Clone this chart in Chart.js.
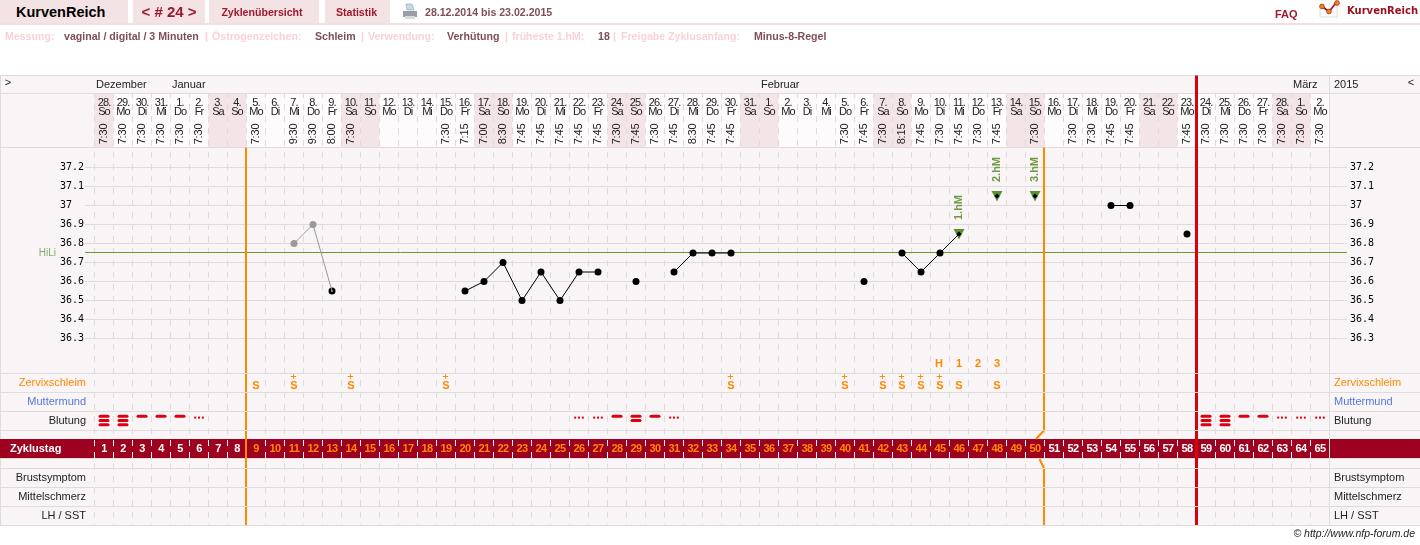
<!doctype html>
<html>

<head>
  <meta charset="utf-8">
  <title>KurvenReich</title>
  <script src="https://cdn.jsdelivr.net/npm/chart.js@4/dist/chart.umd.min.js"></script>
  <style>
    html, body { margin: 0; padding: 0; background: #fff; width: 1420px; height: 545px; overflow: hidden; }
    body { font-family: "Liberation Sans", Arial, sans-serif; position: relative; }
    canvas { position: absolute; left: 0; top: 0; }
    .tab { position: absolute; top: 0; height: 23px; line-height: 24px; background: #f3e3e5; color: #a0182e; font-weight: bold; font-size: 10.6px; text-align: center; }
    .t { position: absolute; white-space: nowrap; font-weight: bold; font-size: 10.6px; line-height: 12px; top: 30px; }
    .pale { color: #f9d2d5; }
    .val { color: #7f4f55; }
  </style>
</head>

<body>
  <canvas id="chart" width="1420" height="545"></canvas>

  <div style="position:absolute;left:0;top:23px;width:1420px;height:2px;background:#f3dfe2"></div>
  <div class="tab" style="left:0;width:128px;color:#000;font-size:14.5px;text-align:left"><span style="margin-left:16px">KurvenReich</span></div>
  <div class="tab" style="left:133px;width:72px;font-size:15px">&lt; # 24 &gt;</div>
  <div class="tab" style="left:209px;width:110px;text-indent:-4px">Zyklenübersicht</div>
  <div class="tab" style="left:325px;width:65px;text-indent:-2px">Statistik</div>
  <svg style="position:absolute;left:402px;top:3px" width="16" height="18" viewBox="0 0 16 18">
    <path d="M4 1h6l2 6H5z" fill="#c5d8ec" stroke="#8aa" stroke-width=".6" />
    <path d="M1 8h14v6H1z" fill="#9a9fa5" />
    <path d="M3 13h10v3H3z" fill="#d8dadc" />
  </svg>
  <div class="t val" style="left:425px;top:6px">28.12.2014 bis 23.02.2015</div>
  <div class="t" style="left:1275px;top:8px;font-size:11px;color:#a0182e">FAQ</div>
  <svg style="position:absolute;left:1319px;top:0" width="22" height="19" viewBox="0 0 22 19">
    <path d="M1 9v8h17V5" fill="none" stroke="#ecd7da" />
    <path d="M3 6.5l7 5 7-8.500" fill="none" stroke="#a0182e" stroke-width="1.8" />
    <circle cx="3" cy="6.500" r="2.400" fill="#f08a00" stroke="#a0182e" stroke-width=".7" />
    <circle cx="10" cy="11.500" r="2.400" fill="#f08a00" stroke="#a0182e" stroke-width=".7" />
    <circle cx="18" cy="3" r="2.400" fill="#f08a00" stroke="#a0182e" stroke-width=".7" />
  </svg>
  <div class="t" style="left:1347px;top:5px;font-family:'DejaVu Sans';font-size:10px;color:#9b0f20">KurvenReich</div>

  <div class="t pale" style="left:5px">Messung:</div>
  <div class="t val" style="left:64px">vaginal / digital / 3 Minuten</div>
  <div class="t pale" style="left:205px">|</div>
  <div class="t pale" style="left:212px">Östrogenzeichen:</div>
  <div class="t val" style="left:315px">Schleim</div>
  <div class="t pale" style="left:361px">|</div>
  <div class="t pale" style="left:368px">Verwendung:</div>
  <div class="t val" style="left:447px">Verhütung</div>
  <div class="t pale" style="left:505px">|</div>
  <div class="t pale" style="left:512px">früheste 1.hM:</div>
  <div class="t val" style="left:598px">18</div>
  <div class="t pale" style="left:613px">|</div>
  <div class="t pale" style="left:621px">Freigabe Zyklusanfang:</div>
  <div class="t val" style="left:754px">Minus-8-Regel</div>

  <div class="t" style="right:5px;top:527px;font-weight:normal;font-style:italic;font-size:10.5px;color:#222">© http://www.nfp-forum.de</div>

  <script>
    const cycleDays = [1, 2, 3, 4, 5, 6, 7, 8, 9, 10, 11, 12, 13, 14, 15, 16, 17, 18, 19, 20, 21, 22, 23, 24, 25, 26, 27, 28, 29, 30, 31, 32, 33,
      34, 35, 36, 37, 38, 39, 40, 41, 42, 43, 44, 45, 46, 47, 48, 49, 50, 51, 52, 53, 54, 55, 56, 57, 58, 59, 60, 61, 62, 63, 64, 65];
    const dayOfMonth = [28, 29, 30, 31, 1, 2, 3, 4, 5, 6, 7, 8, 9, 10, 11, 12, 13, 14, 15, 16, 17, 18, 19, 20, 21, 22, 23, 24, 25, 26, 27, 28, 29,
      30, 31, 1, 2, 3, 4, 5, 6, 7, 8, 9, 10, 11, 12, 13, 14, 15, 16, 17, 18, 19, 20, 21, 22, 23, 24, 25, 26, 27, 28, 1, 2];
    const weekDays = ['So', 'Mo', 'Di', 'Mi', 'Do', 'Fr', 'Sa', 'So', 'Mo', 'Di', 'Mi', 'Do', 'Fr', 'Sa', 'So', 'Mo', 'Di', 'Mi', 'Do', 'Fr', 'Sa', 'So',
      'Mo', 'Di', 'Mi', 'Do', 'Fr', 'Sa', 'So', 'Mo', 'Di', 'Mi', 'Do', 'Fr', 'Sa', 'So', 'Mo', 'Di', 'Mi', 'Do', 'Fr', 'Sa', 'So', 'Mo',
      'Di', 'Mi', 'Do', 'Fr', 'Sa', 'So', 'Mo', 'Di', 'Mi', 'Do', 'Fr', 'Sa', 'So', 'Mo', 'Di', 'Mi', 'Do', 'Fr', 'Sa', 'So', 'Mo'];
    const measureTimes = ['7:30', '7:30', '7:30', '7:30', '7:30', '7:30', '', '', '7:30', '', '9:30', '9:30', '8:00', '7:30', '', '', '', '', '7:30', '7:15',
      '7:00', '8:30', '7:45', '7:45', '7:45', '7:45', '7:45', '7:30', '7:45', '7:30', '7:45', '8:30', '7:45', '7:45', '', '', '', '', '', '7:30',
      '7:45', '7:30', '8:15', '7:45', '7:30', '7:45', '7:30', '7:45', '', '7:30', '', '7:30', '7:30', '7:45', '7:45', '', '', '7:45', '7:30', '7:30',
      '7:30', '7:30', '7:30', '7:30', '7:30'];
    const monthLabels = ['Dezember', 'Januar', 'Februar', 'März'];
    const monthStartDays = [1, 5, 36, 64];

    // temperature per cycle day, null = not measured
    const temps = [null, null, null, null, null, null, null, null, null, null, null, null, 36.55, null, null, null, null, null, null, 36.55,
      36.6, 36.7, 36.5, 36.65, 36.5, 36.65, 36.65, null, 36.6, null, 36.65, 36.75, 36.75, 36.75, null, null, null, null, null, null,
      36.6, null, 36.75, 36.65, 36.75, 36.85, null, 37.05, null, 37.05, null, null, null, 37, 37, null, null, 36.85, null, null,
      null, null, null, null, null];
    const excludedDays = [11, 12, 13];
    const excludedTemps = [36.8, 36.9, 36.55];
    const hmDays = [46, 48, 50];
    const hmTemps = [36.85, 37.05, 37.05];
    const hmLabels = ['1.hM', '2.hM', '3.hM'];
    const hiLiTemp = 36.75;
    const tempTicks = [37.2, 37.1, 37, 36.9, 36.8, 36.7, 36.6, 36.5, 36.4, 36.3];

    const peakDays = [45, 46, 47, 48];
    const peakLabels = ['H', '1', '2', '3'];
    const mucusDays = [9, 11, 14, 19, 34, 40, 42, 43, 44, 45, 46, 48];
    const mucusPlus = [false, true, true, true, true, true, true, true, true, true, false, false];
    const bleedDays = [1, 2, 3, 4, 5, 6, 26, 27, 28, 29, 30, 31, 59, 60, 61, 62, 63, 64, 65];
    const bleedLevels = [4, 4, 2, 2, 2, 1, 1, 1, 2, 3, 2, 1, 4, 4, 2, 2, 1, 1, 1];
    const rowLabels = ['Zervixschleim', 'Muttermund', 'Blutung', 'Brustsymptom', 'Mittelschmerz', 'LH / SST'];
    const rowCenters = [0.5, 1.5, 2.5, 5.5, 6.5, 7.5];
    const rowEdges = [0, 1, 2, 3, 5, 6, 7, 8];
    const fertileStart = 8.5, fertileEnd = 50.5, cycleEnd = 58.5;

    const LINE = '#dedbdb', ORANGE = '#ff8800', GREEN = '#6a9a2e', BAND = '#9e0020';
    const halfPx = 0.5 / 19; // orange lines sit half a pixel left of the column edge

    // 1 row = 19 px, 0.1 degree = 19 px
    const tempMax = 37.2 + 74 / 190, tempMin = 37.2 - 358 / 190;
    const rowMin = -280 / 19, rowMax = 8;
    const rowTop = -226 / 19, redTop = -298 / 19;

    function icon(draw) {
      const c = document.createElement('canvas');
      c.width = 20; c.height = 20;
      draw(c.getContext('2d'));
      return c;
    }
    function pills(ys) {
      return icon(function (g) {
        g.fillStyle = '#dd0011';
        ys.forEach(function (y) {
          g.beginPath();
          g.roundRect(4.5, y, 11, 3, 1.5);
          g.fill();
        });
      });
    }
    const bleedIcons = {
      1: icon(function (g) {
        g.fillStyle = '#dd0011';
        [5.2, 9, 12.8].forEach(function (x) { g.fillRect(x, 5.6, 2, 2); });
      }),
      2: pills([3.8]),
      3: pills([3.8, 8]),
      4: pills([3.8, 8, 12.2])
    };
    const hmIcon = icon(function (g) {
      g.fillStyle = '#5d9130';
      g.beginPath();
      g.moveTo(4.5, 5); g.lineTo(15.5, 5); g.lineTo(10, 15.5);
      g.fill();
    });

    function text(ctx, str, x, y, font, color, align, spacing) {
      ctx.font = font;
      ctx.fillStyle = color;
      ctx.textAlign = align || 'center';
      ctx.textBaseline = 'middle';
      ctx.letterSpacing = spacing || '0px';
      ctx.fillText(str, x, y);
      ctx.letterSpacing = '0px';
    }
    function hLine(ctx, y, x0, x1) {
      ctx.beginPath();
      ctx.moveTo(x0, y); ctx.lineTo(x1, y);
      ctx.stroke();
    }

    const tablePlugin = {
      id: 'table',
      beforeDraw(chart) {
        const ctx = chart.ctx, xs = chart.scales.x, rows = chart.scales.rows;
        ctx.save();
        ctx.fillStyle = '#f9f4f5';
        ctx.fillRect(0, 75, 1420, 451);
        cycleDays.forEach(function (d, i) {
          const isWeekend = weekDays[i] === 'Sa' || weekDays[i] === 'So';
          ctx.fillStyle = isWeekend ? '#f3e4e7' : '#fdfbfb';
          ctx.fillRect(xs.getPixelForValue(d - 0.5), 94, 19, 53);
        });
        ctx.strokeStyle = LINE;
        ctx.lineWidth = 1;
        [75.5, 93.5, 147.5].forEach(function (y) { hLine(ctx, y, 0, 1420); });
        rowEdges.forEach(function (r) {
          const y = Math.floor(rows.getPixelForValue(r)) + 0.5;
          hLine(ctx, y, 0, 94);
          hLine(ctx, y, 1330, 1420);
        });
        ctx.beginPath();
        ctx.moveTo(0.5, 75); ctx.lineTo(0.5, 526);
        ctx.moveTo(1329.5, 75); ctx.lineTo(1329.5, 526);
        ctx.stroke();
        ctx.restore();
      },
      beforeDatasetsDraw(chart) {
        const ctx = chart.ctx, xs = chart.scales.x, rows = chart.scales.rows, ys = chart.scales.y;
        const base = '11px "Liberation Sans", Arial, sans-serif';
        const bold = 'bold 11px "Liberation Sans", Arial, sans-serif';
        ctx.save();

        // header
        text(ctx, '>', 8, 83, base, '#222');
        text(ctx, '2015', 1334, 85, base, '#222', 'left');
        text(ctx, '<', 1411, 83, base, '#222');
        monthLabels.forEach(function (m, i) {
          text(ctx, m, xs.getPixelForValue(monthStartDays[i] - 0.5) + 1.5, 85, base, '#222', 'left');
        });
        cycleDays.forEach(function (d, i) {
          const x = xs.getPixelForValue(d);
          text(ctx, dayOfMonth[i] + '.', x, 102.5, base, '#222', 'center', '-0.9px');
          text(ctx, weekDays[i], x, 112, base, '#222', 'center', '-1px');
          if (measureTimes[i]) {
            ctx.save();
            ctx.translate(x, 134);
            ctx.rotate(-Math.PI / 2);
            text(ctx, measureTimes[i], 0, 0, base, '#222', 'center', '-0.2px');
            ctx.restore();
          }
        });

        // row labels, both sides
        rowLabels.forEach(function (label, i) {
          const y = rows.getPixelForValue(rowCenters[i]);
          const color = i === 0 ? ORANGE : i === 1 ? '#5577dd' : '#222';
          text(ctx, label, 86, y, base, color, 'right');
          text(ctx, label, 1334, y, base, color, 'left');
        });

        // cycle day band
        const top = rows.getPixelForValue(65.5 / 19), h = 19;
        ctx.fillStyle = BAND;
        ctx.fillRect(0, top, 1420, h);
        ctx.strokeStyle = '#ffffff';
        ctx.lineWidth = 1;
        ctx.setLineDash([6, 6]);
        ctx.lineDashOffset = 1.5;
        ctx.save();
        ctx.beginPath();
        ctx.rect(0, top, 1420, h);
        ctx.clip();
        cycleDays.forEach(function (d) {
          const x = xs.getPixelForValue(d - 0.5);
          ctx.beginPath();
          ctx.moveTo(x, 93.5); ctx.lineTo(x, 525.5);
          ctx.stroke();
        });
        ctx.restore();
        ctx.setLineDash([]);
        ctx.strokeStyle = LINE;
        hLine(ctx, top + h + 0.5, 0, 1420);
        ctx.beginPath();
        ctx.moveTo(1329.5, top); ctx.lineTo(1329.5, top + h);
        ctx.stroke();
        text(ctx, 'Zyklustag', 10, top + h / 2, bold, '#fff', 'left');
        cycleDays.forEach(function (d) {
          const inside = d > fertileStart && d < fertileEnd;
          text(ctx, String(d), xs.getPixelForValue(d), top + h / 2, bold, inside ? ORANGE : '#fff', 'center', '-0.6px');
        });

        // mucus and peak day marks
        mucusDays.forEach(function (d, i) {
          const x = xs.getPixelForValue(d), y = rows.getPixelForValue(0.5);
          text(ctx, 'S', x, y + 2.5, bold, ORANGE);
          if (mucusPlus[i]) text(ctx, '+', x - 0.5, y - 6, '11px "Liberation Sans", Arial, sans-serif', ORANGE);
        });
        peakDays.forEach(function (d, i) {
          text(ctx, peakLabels[i], xs.getPixelForValue(d) - (i === 0 ? 1 : 0), 364, bold, ORANGE);
        });

        text(ctx, 'HiLi', 56, ys.getPixelForValue(hiLiTemp), '10px "Liberation Sans", Arial, sans-serif', '#8aa86a', 'right');
        ctx.restore();
      },
      afterDatasetsDraw(chart) {
        const ctx = chart.ctx, xs = chart.scales.x, ys = chart.scales.y;
        hmDays.forEach(function (d, i) {
          ctx.save();
          ctx.translate(xs.getPixelForValue(d), ys.getPixelForValue(hmTemps[i]) - 26.5);
          ctx.rotate(-Math.PI / 2);
          text(ctx, hmLabels[i], 0, 0, 'bold 11px "Liberation Sans", Arial, sans-serif', '#6f9a45');
          ctx.restore();
        });
      }
    };

    function yAxis(position) {
      return {
        position: position,
        min: tempMin,
        max: tempMax,
        afterBuildTicks: function (s) { s.ticks = tempTicks.map(function (v) { return { value: v }; }); },
        afterFit: function (s) { s.width = position === 'left' ? 34.5 : 90.5; },
        border: { display: false },
        grid: { color: LINE, drawOnChartArea: position === 'left', tickLength: position === 'left' ? 9.5 : 17.5 },
        ticks: {
          autoSkip: false,
          padding: 3,
          crossAlign: position === 'left' ? 'far' : 'near',
          color: '#000',
          font: { family: '"DejaVu Sans Mono"', size: 10 },
          callback: function (v) { return String(v); }
        }
      };
    }

    new Chart(document.getElementById('chart').getContext('2d'), {
      type: 'line',
      plugins: [tablePlugin],
      data: {
        datasets: [
          {
            label: 'Temperatur',
            data: cycleDays.map(function (d, i) { return { x: d, y: temps[i] }; }),
            borderColor: '#000',
            backgroundColor: '#000',
            borderWidth: 1,
            pointBorderWidth: 0,
            pointStyle: function (c) { return hmDays.indexOf(c.dataIndex + 1) >= 0 ? 'rectRot' : 'circle'; },
            pointRadius: function (c) { return hmDays.indexOf(c.dataIndex + 1) >= 0 ? 2.6 : 3.5; },
            order: 3
          },
          {
            label: 'ausgeklammert',
            data: excludedDays.map(function (d, i) { return { x: d, y: excludedTemps[i] }; }),
            borderColor: '#999',
            backgroundColor: '#999',
            borderWidth: 1,
            pointBorderWidth: 0,
            pointRadius: [3.5, 3.5, 1],
            order: 2
          },
          {
            label: 'Höhenmarke',
            data: hmDays.map(function (d, i) { return { x: d, y: hmTemps[i] }; }),
            showLine: false,
            pointStyle: hmIcon,
            order: 5
          },
          {
            label: 'HiLi',
            data: [{ x: 0, y: hiLiTemp + 0.0026 }, { x: 66.42, y: hiLiTemp + 0.0026 }],
            borderColor: GREEN,
            borderWidth: 1,
            pointRadius: 0,
            clip: false,
            order: 8
          },
          {
            label: 'Beginn fruchtbar',
            yAxisID: 'rows',
            data: [{ x: fertileStart - halfPx, y: rowTop }, { x: fertileStart - halfPx, y: rowMax }],
            borderColor: ORANGE,
            borderWidth: 2,
            pointRadius: 0,
            order: 6
          },
          {
            label: 'Ende fruchtbar',
            yAxisID: 'rows',
            data: [{ x: fertileEnd - halfPx, y: rowTop }, { x: fertileEnd - halfPx, y: 3 }, { x: fertileEnd - 0.45, y: 3.45 }, { x: fertileEnd, y: null },
              { x: fertileEnd - 0.26, y: 4.5 }, { x: fertileEnd - halfPx, y: 5 }, { x: fertileEnd - halfPx, y: rowMax }],
            borderColor: ORANGE,
            borderWidth: 2,
            pointRadius: 0,
            order: 6
          },
          {
            label: 'Zyklusende',
            yAxisID: 'rows',
            data: [{ x: cycleEnd, y: redTop }, { x: cycleEnd, y: rowMax }],
            borderColor: '#d90010',
            borderWidth: 3,
            pointRadius: 0,
            clip: false,
            order: 6
          },
          {
            label: 'Blutung',
            yAxisID: 'rows',
            data: bleedDays.map(function (d) { return { x: d, y: 2.5 }; }),
            showLine: false,
            pointStyle: function (c) { return bleedIcons[bleedLevels[c.dataIndex]]; },
            order: 4
          }
        ]
      },
      options: {
        responsive: false,
        animation: false,
        events: [],
        layout: { padding: { left: 60, right: 0, top: 93.5, bottom: 19.5 } },
        plugins: { legend: { display: false }, tooltip: { enabled: false } },
        scales: {
          x: {
            type: 'linear',
            min: 0.5,
            max: 65.5,
            afterBuildTicks: function (s) {
              s.ticks = cycleDays.map(function (d) { return { value: d - 0.5 }; }).concat([{ value: 65.5 }]);
            },
            afterFit: function (s) { s.height = 0; },
            border: { display: false, dash: [6, 6], dashOffset: 1.5 },
            grid: { color: LINE, drawTicks: false },
            ticks: { display: false, autoSkip: false }
          },
          y: yAxis('left'),
          y2: yAxis('right'),
          rows: {
            position: 'right',
            reverse: true,
            min: rowMin,
            max: rowMax,
            afterBuildTicks: function (s) { s.ticks = rowEdges.map(function (v) { return { value: v }; }); },
            afterFit: function (s) { s.width = 0; },
            border: { display: false },
            grid: { color: LINE, z: 1, drawTicks: false },
            ticks: { display: false, autoSkip: false }
          }
        }
      }
    });
  </script>
</body>

</html>
